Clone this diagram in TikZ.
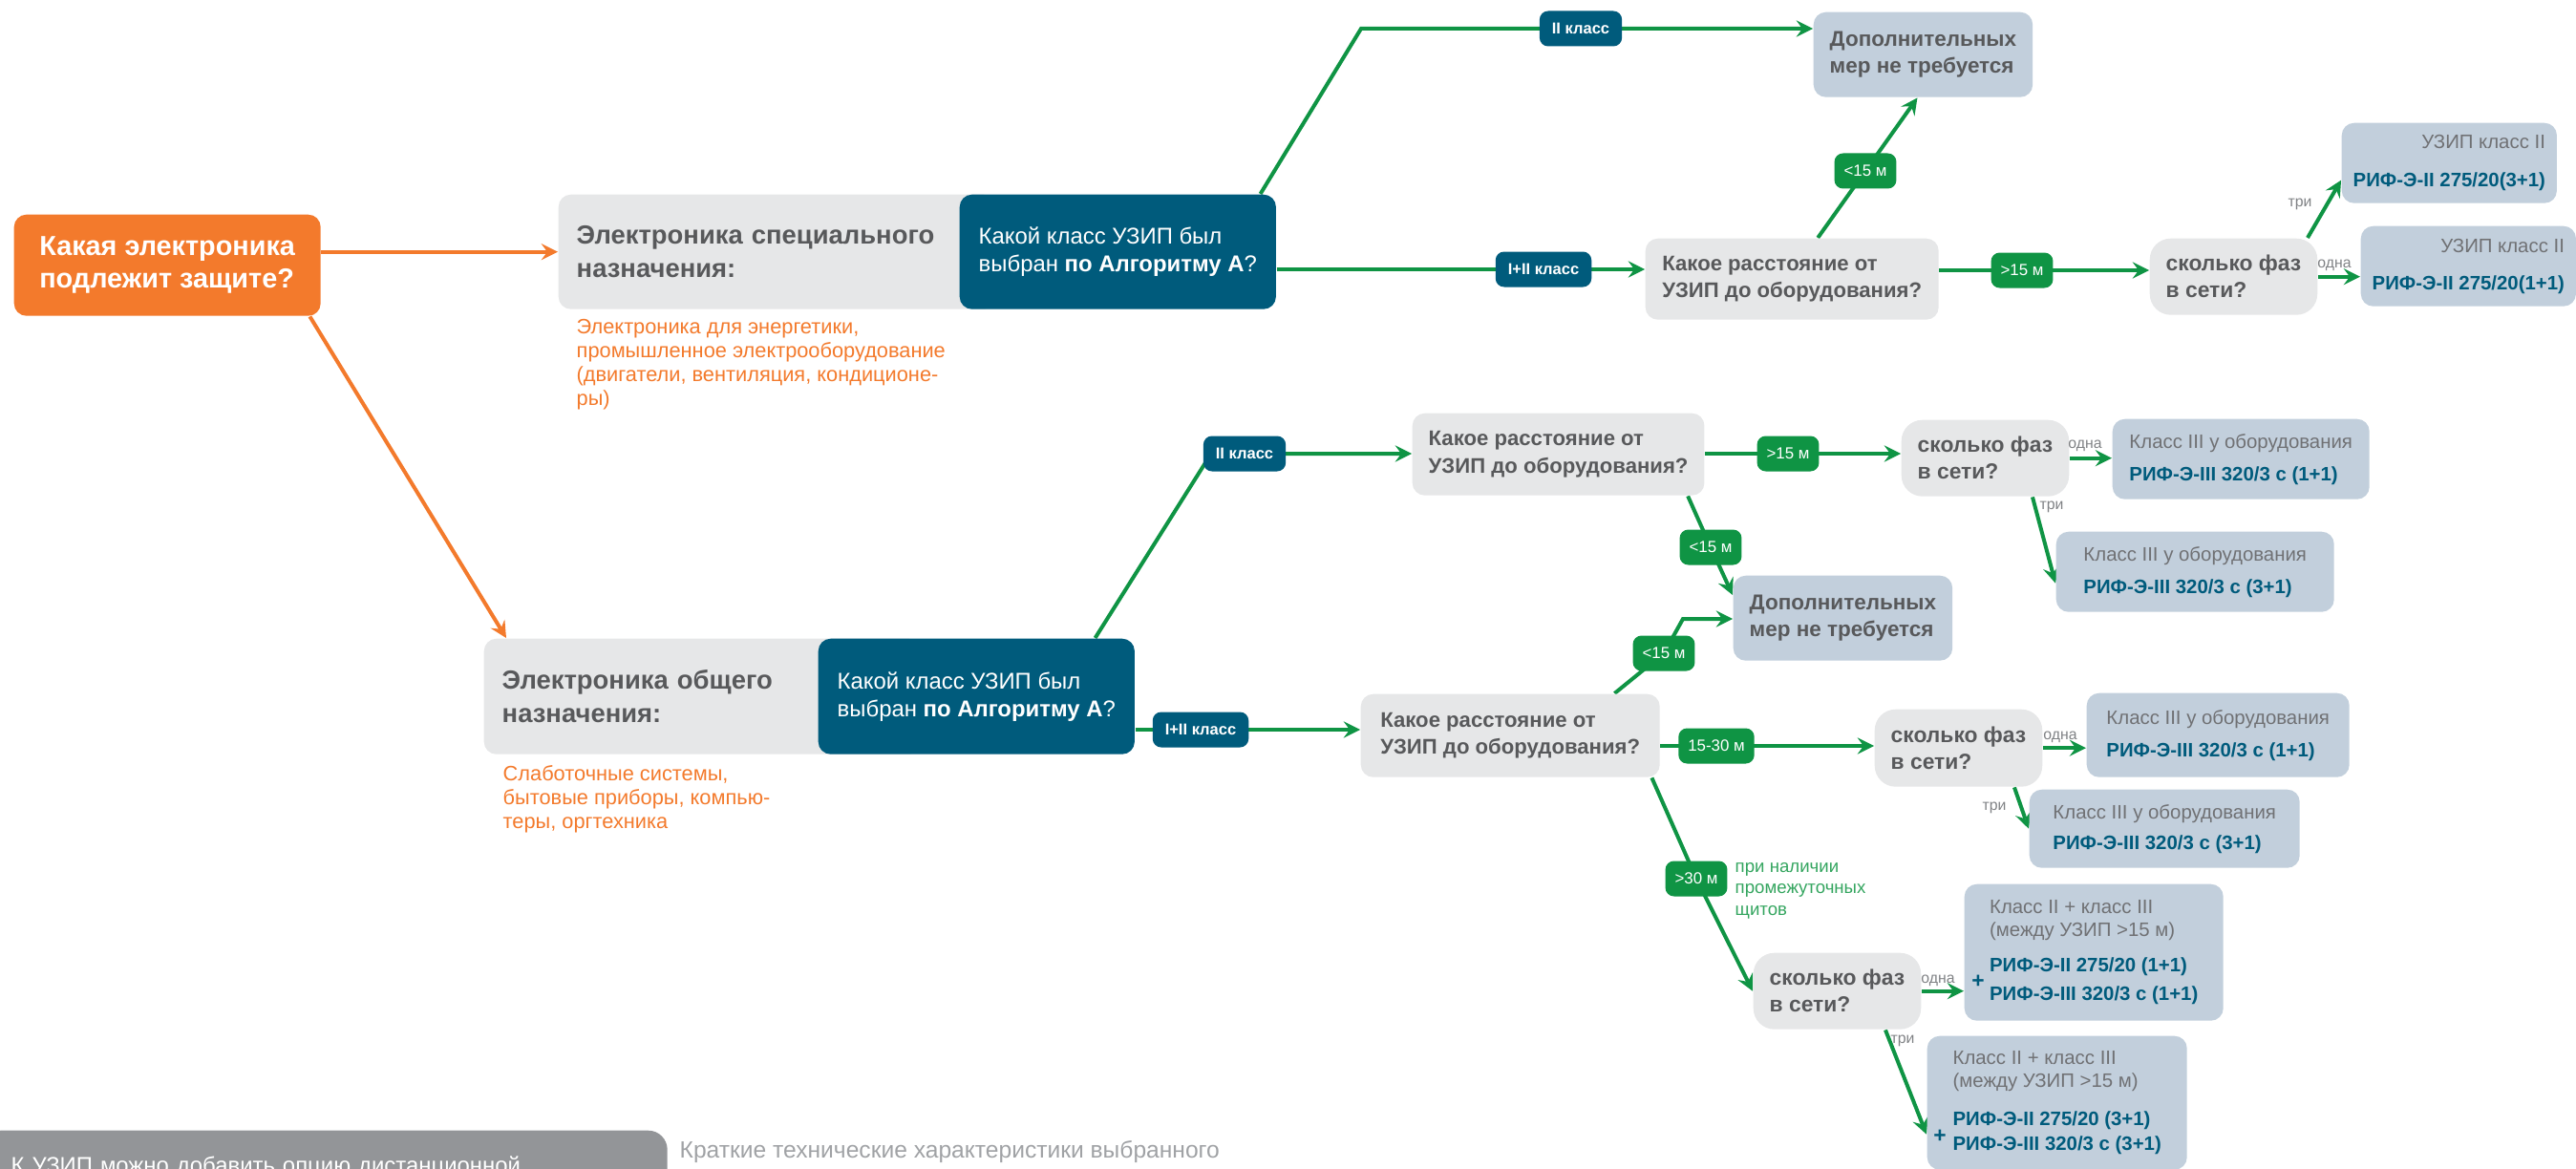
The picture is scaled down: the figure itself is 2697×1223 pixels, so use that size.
\documentclass[tikz,border=0pt]{standalone}
\usepackage{fontspec}
\setmainfont{Liberation Sans}
\usetikzlibrary{backgrounds}
\definecolor{orng}{RGB}{243,122,44}
\definecolor{gbox}{RGB}{230,231,232}
\definecolor{uzblue}{RGB}{0,91,124}
\definecolor{grn}{RGB}{15,148,68}
\definecolor{ltgrn}{RGB}{52,165,95}
\definecolor{sbox}{RGB}{194,207,220}
\definecolor{dgrey}{RGB}{88,89,91}
\definecolor{lgrey}{RGB}{112,113,116}
\definecolor{mgrey}{RGB}{128,130,133}
\definecolor{bgrey}{RGB}{147,149,152}
\definecolor{tgrey}{RGB}{160,162,165}
\newcommand\fsz[2]{\fontsize{#1}{#2}\selectfont}
\newcommand\rif[1]{{\color{uzblue}\bfseries #1}}

\begin{document}
\begin{tikzpicture}[x=0.1mm,y=-0.1mm,>=stealth, line join=round, line cap=round,
	ttl/.style={anchor=north west, fill=orng, text=white, rounded corners=1.3mm, inner xsep=2mm, inner ysep=0pt, align=left, font=\fsz{8.2pt}{9.7pt}\bfseries},
	hdr/.style={anchor=north west, fill=gbox, text=dgrey, rounded corners=1.3mm, inner xsep=1.9mm, inner ysep=0pt, text width=42mm, align=left, font=\fsz{7.8pt}{10pt}\bfseries},
	ask/.style={anchor=north west, fill=uzblue, text=white, rounded corners=1.3mm, inner xsep=2mm, inner ysep=0pt, align=left, font=\fsz{6.8pt}{8.3pt}},
	note/.style={anchor=north west, inner sep=0pt, text=orng, align=left, font=\fsz{6.2pt}{7.1pt}},
	qbox/.style={anchor=north west, fill=gbox, text=dgrey, rounded corners=1.3mm, inner xsep=1.7mm, inner ysep=0pt, align=left, font=\fsz{6.3pt}{8pt}\bfseries},
	fbox/.style={qbox, rounded corners=2.2mm, font=\fsz{6.5pt}{8pt}\bfseries},
	dbox/.style={qbox, fill=sbox, font=\fsz{6.4pt}{8pt}\bfseries},
	rbox/.style={anchor=north west, fill=sbox, text=lgrey, rounded corners=1.3mm, inner xsep=1.2mm, inner ysep=0pt, font=\fsz{5.8pt}{6.8pt}},
	lbl/.style={fill=uzblue, text=white, rounded corners=0.9mm, inner xsep=1.3mm, inner ysep=0pt, minimum height=3.7mm, font=\fsz{4.7pt}{5pt}\bfseries},
	glbl/.style={lbl, fill=grn, inner xsep=1mm, font=\fsz{4.8pt}{5pt}},
	sm/.style={inner sep=0pt, text=mgrey, font=\fsz{4.5pt}{5pt}},
	gline/.style={->, draw=grn, line width=\lw},
	oline/.style={->, draw=orng, line width=\lw}]
	\def\lw{0.4mm}
	\useasboundingbox (0,0) rectangle (2697,1223);
	\clip (0,0) rectangle (2697,1223);
	% левая часть
	\node[ttl, minimum width=32.1mm, minimum height=10.6mm] (q0) at (14,224) {Какая электроника\\подлежит защите?};
	\node[hdr, minimum height=12mm] (e1) at (584,203) {Электроника специального\\назначения:};
	\node[ask, minimum width=32mm, minimum height=12mm] (a1) at (1004,203) {Какой класс УЗИП был\\выбран \textbf{по Алгоритму А}?};
	\node[note] (n1) at (603,334) {Электроника для энергетики,\\промышленное электрооборудование\\(двигатели, вентиляция, кондиционе-\\ры)};
	\node[hdr, minimum height=12.1mm] (e2) at (506,668) {Электроника общего\\назначения:};
	\node[ask, minimum width=32.1mm, minimum height=12.1mm] (a2) at (856,668) {Какой класс УЗИП был\\выбран \textbf{по Алгоритму А}?};
	\node[note] (n2) at (526,801) {Слаботочные системы,\\бытовые приборы, компью-\\теры, оргтехника};
	% верхняя ветка
	\node[dbox, minimum width=22.7mm, minimum height=8.9mm] (d1) at (1898,12) {Дополнительных\\мер не требуется};
	\node[qbox, minimum width=30.7mm, minimum height=8.5mm] (q1) at (1722,249) {Какое расстояние от\\УЗИП до оборудования?};
	\node[fbox, minimum width=16.8mm, minimum height=8mm] (f1) at (2250,249) {сколько фаз\\в сети?};
	\node[rbox, align=right, minimum width=22.2mm, minimum height=8.4mm] (r1a) at (2451,128) {УЗИП класс II\\[1.6mm]\rif{РИФ-Э-II 275/20(3+1)}};
	\node[rbox, align=right, minimum width=22.1mm, minimum height=8.4mm] (r1b) at (2471,236) {УЗИП класс II\\[1.5mm]\rif{РИФ-Э-II 275/20(1+1)}};
	% нижняя ветка
	\node[qbox, minimum width=30.3mm, minimum height=8.6mm] (q2) at (1478,432) {Какое расстояние от\\УЗИП до оборудования?};
	\node[fbox, minimum width=16.8mm, minimum height=8mm] (f2) at (1990,439) {сколько фаз\\в сети?};
	\node[rbox, align=left, minimum width=26.9mm, minimum height=8.4mm] (r2a) at (2211,438) {Класс III у оборудования\\[1mm]\rif{РИФ-Э-III 320/3 с (1+1)}};
	\node[rbox, align=left, minimum width=29.1mm, minimum height=8.4mm] (r2b) at (2152,556) {Класс III у оборудования\\[1mm]\rif{РИФ-Э-III 320/3 с (3+1)}};
	\node[dbox, minimum width=22.7mm, minimum height=8.9mm] (d2) at (1814,602) {Дополнительных\\мер не требуется};
	\node[qbox, minimum width=31.3mm, minimum height=8.7mm] (q3) at (1424,726) {Какое расстояние от\\УЗИП до оборудования?};
	\node[fbox, minimum width=16.9mm, minimum height=8.1mm] (f3) at (1962,742) {сколько фаз\\в сети?};
	\node[rbox, align=left, minimum width=27.5mm, minimum height=8.8mm] (r3a) at (2184,725) {Класс III у оборудования\\[1mm]\rif{РИФ-Э-III 320/3 с (1+1)}};
	\node[rbox, align=left, minimum width=28.3mm, minimum height=8.2mm] (r3b) at (2124,826) {Класс III у оборудования\\[0.8mm]\rif{РИФ-Э-III 320/3 с (3+1)}};
	\node[fbox, minimum width=16.7mm, minimum height=8mm] (f4) at (1835,997) {сколько фаз\\в сети?};
	\node[rbox, align=left, inner xsep=2.3mm, minimum width=27.1mm, minimum height=14.3mm] (r4a) at (2056,925) {Класс II + класс III\\(между УЗИП >15 м)\\[1.3mm]\rif{РИФ-Э-II 275/20 (1+1)}\\[0.6mm]\rif{РИФ-Э-III 320/3 с (1+1)}};
	\node[rbox, align=left, inner xsep=2.6mm, minimum width=27.2mm, minimum height=14mm] (r4b) at (2017,1084) {Класс II + класс III\\(между УЗИП >15 м)\\[1.6mm]\rif{РИФ-Э-II 275/20 (3+1)}\\[0.3mm]\rif{РИФ-Э-III 320/3 с (3+1)}};
	\node[inner sep=0pt, text=uzblue, font=\fsz{6.5pt}{7pt}\bfseries] (p4a) at (2071,1028) {+};
	\node[inner sep=0pt, text=uzblue, font=\fsz{6.5pt}{7pt}\bfseries] (p4b) at (2031,1190) {+};
	% метки на стрелках
	\node[lbl] (l1) at (1655,30) {II класс};
	\node[lbl] (l2) at (1616,282) {I+II класс};
	\node[glbl] (l3) at (1953,179) {<15 м};
	\node[glbl] (l4) at (2117,283) {>15 м};
	\node[lbl] (l5) at (1303,475) {II класс};
	\node[glbl] (l6) at (1872,475) {>15 м};
	\node[glbl] (l7) at (1791,573) {<15 м};
	\node[glbl] (l8) at (1742,684) {<15 м};
	\node[lbl] (l9) at (1257,764) {I+II класс};
	\node[glbl] (l10) at (1797,781) {15-30 м};
	\node[glbl] (l11) at (1776,920) {>30 м};
	\node[sm] (t1) at (2408,214) {три};
	\node[sm] (o1) at (2444,278) {одна};
	\node[sm] (o2) at (2183,467) {одна};
	\node[sm] (t2) at (2148,531) {три};
	\node[sm] (o3) at (2157,772) {одна};
	\node[sm] (t3) at (2088,846) {три};
	\node[sm] (o4) at (2029,1027) {одна};
	\node[sm] (t4) at (1992,1090) {три};
	\node[anchor=north west, inner sep=0pt, text=ltgrn, align=left, font=\fsz{5.3pt}{6.3pt}] (pn) at (1816,903) {при наличии\\промежуточных\\щитов};
	% низ
	\node[anchor=north west, fill=bgrey, text=white, rounded corners=2mm, inner xsep=3.1mm, inner ysep=2.7mm, text width=65.6mm, align=left, font=\fsz{6.8pt}{8pt}] (opt) at (-20,1183) {К УЗИП можно добавить опцию дистанционной};
	\node[anchor=base west, inner sep=0pt, text=tgrey, font=\fsz{7pt}{8pt}] (tx) at (711,1212) {Краткие технические характеристики выбранного};
	\begin{pgfonlayer}{background}
		\coordinate (k1) at (1425,30);
		\coordinate (k8) at (1762,648);
		\draw[oline] (q0.east |- e1.west) -- (e1.west);
		\draw[oline] ([xshift=-1.2mm]q0.south east) -- ([xshift=2.4mm]e2.north west);
		\draw[gline] ([xshift=-1.7mm]a1.north east) -- (k1) -- (l1.center) -- (d1.west |- l1);
		\draw[gline] (a1.east |- l2) -- (l2.center) -- (q1.west |- l2);
		\draw[gline] ([xshift=2.7mm]q1.north) -- (l3.center) -- ([xshift=-0.6mm]d1.south);
		\draw[gline] (q1.east |- l4) -- (l4.center) -- (f1.west |- l4);
		\draw[gline] ([xshift=-1.1mm]f1.north east) -- ([yshift=-1.8mm]r1a.west);
		\draw[gline] (f1.east) -- (f1.east -| r1b.west);
		\draw[gline] ([xshift=-4.2mm]a2.north east) -- ([xshift=-3.5mm]l5.center) -- (q2.west |- l5);
		\draw[gline] (q2.east |- l6) -- (l6.center) -- (f2.west |- l6);
		\draw[gline] (f2.east) -- (f2.east -| r2a.west);
		\draw[gline] ([xshift=-3.9mm]f2.south east) -- ([yshift=-1.2mm]r2b.west);
		\draw[gline] ([xshift=-1.8mm]q2.south east) -- (l7.center) -- ([yshift=-2.1mm]d2.north west);
		\draw[gline] ([xshift=-4.8mm]q3.north east) -- (l8.center) -- (k8) -- (d2.west |- k8);
		\draw[gline] (a2.east |- l9) -- (l9.center) -- (q3.west |- l9);
		\draw[gline] (q3.east |- l10) -- (l10.center) -- (f3.west |- l10);
		\draw[gline] (f3.east) -- (f3.east -| r3a.west);
		\draw[gline] ([xshift=-3mm]f3.south east) -- (r3b.west);
		\draw[gline] ([xshift=-0.9mm]q3.south east) -- (l11.center) -- (f4.west);
		\draw[gline] (f4.east) -- (f4.east -| r4a.west);
		\draw[gline] ([xshift=-3.8mm]f4.south east) -- ([yshift=-3.3mm]r4b.west);
	\end{pgfonlayer}
\end{tikzpicture}
\end{document}
